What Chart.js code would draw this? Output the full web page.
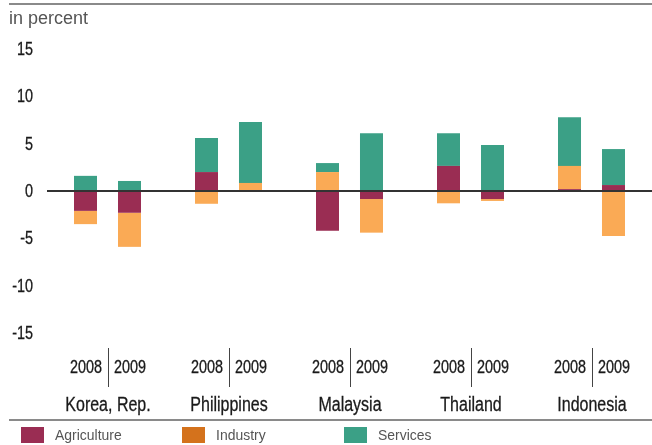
<!DOCTYPE html>
<html>
<head>
<meta charset="utf-8">
<script src="https://cdn.jsdelivr.net/npm/chart.js@4"></script>
<style>
  html, body { margin: 0; padding: 0; background: #fff; }
  #wrap { width: 652px; height: 445px; position: relative; }
</style>
</head>
<body>
<div id="wrap"><canvas id="chart"></canvas></div>
<script>
// Data (percentage points)
const countries = ["Korea, Rep.", "Philippines", "Malaysia", "Thailand", "Indonesia"];
const years = ["2008", "2009"];
const sectors = ["Agriculture", "Industry", "Services"];

const agri2008 = [-2.1, 2.0, -4.2, 2.65, 0.2];
const ind2008 = [-1.4, -1.35, 2.0, -1.3, 2.45];
const serv2008 = [1.6, 3.6, 0.95, 3.45, 5.15];

const agri2009 = [-2.3, 0, -0.85, -0.85, 0.63];
const ind2009 = [-3.6, 0.85, -3.55, -0.2, -4.75];
const serv2009 = [1.06, 6.45, 6.1, 4.87, 3.8];

const yTicks = [15, 10, 5, 0, -5, -10, -15];

const barColors = ["#9a2d53", "#faaa55", "#3ba086"];
const legendColors = ["#9a2d53", "#d4721c", "#3ba086"];

const FONT = '"Liberation Sans", Arial, sans-serif';

function ds(label, data, color, stack) {
    return {
        label: label,
        data: data,
        backgroundColor: color,
        borderWidth: 0,
        stack: stack,
        categoryPercentage: 0.727,
        barPercentage: 0.523
    };
}

// no condensed face installed, so squeeze the text horizontally
function narrowText(ctx, text, x, y, align, size, sx, weight) {
    ctx.save();
    ctx.translate(x, y);
    ctx.scale(sx, 1);
    ctx.font = size + "px " + FONT;
    ctx.textAlign = align;
    ctx.textBaseline = "middle";
    ctx.fillText(text, 0, 0);
    if (weight) {
        ctx.strokeStyle = ctx.fillStyle;
        ctx.lineWidth = weight;
        ctx.strokeText(text, 0, 0);
    }
    ctx.restore();
}

const decorations = {
    id: "decorations",
    afterDraw(chart) {
        const ctx = chart.ctx;
        const xs = chart.scales.x;
        const ys = chart.scales.y;
        ctx.save();

        // top rule and unit label
        ctx.strokeStyle = "#8a8a8a";
        ctx.lineWidth = 2;
        ctx.beginPath();
        ctx.moveTo(9, 4);
        ctx.lineTo(652, 4);
        ctx.stroke();

        ctx.fillStyle = "#555";
        narrowText(ctx, "in percent", 9, 19, "left", 18, 1);

        // y tick labels
        ctx.fillStyle = "#1a1a1a";
        yTicks.forEach(v => {
            narrowText(ctx, String(v), 33, ys.getPixelForValue(v) + 1, "right", 18, 0.8, 0.3);
        });

        // years + separators + country names
        countries.forEach((c, i) => {
            const cx = Math.round(xs.getPixelForValue(i));
            ctx.strokeStyle = "#444";
            ctx.lineWidth = 1;
            ctx.beginPath();
            ctx.moveTo(cx + 0.5, 348);
            ctx.lineTo(cx + 0.5, 387);
            ctx.stroke();

            ctx.fillStyle = "#1a1a1a";
            narrowText(ctx, years[0], cx - 6, 368, "right", 18, 0.8, 0.3);
            narrowText(ctx, years[1], cx + 6, 368, "left", 18, 0.8, 0.3);
            narrowText(ctx, c, cx, 405, "center", 20, 0.8, 0.3);
        });

        // bottom rule
        ctx.strokeStyle = "#8a8a8a";
        ctx.lineWidth = 2;
        ctx.beginPath();
        ctx.moveTo(9, 420);
        ctx.lineTo(652, 420);
        ctx.stroke();

        // legend
        const lx = [21, 182, 344];
        sectors.forEach((s, i) => {
            ctx.fillStyle = legendColors[i];
            ctx.fillRect(lx[i], 427, 23, 16);
            ctx.fillStyle = "#555";
            narrowText(ctx, s, lx[i] + 34, 436, "left", 15, 0.93);
        });

        ctx.restore();
    }
};

new Chart(document.getElementById("chart"), {
    type: "bar",
    data: {
        labels: countries,
        datasets: [
            ds(sectors[0] + " " + years[0], agri2008, barColors[0], years[0]),
            ds(sectors[1] + " " + years[0], ind2008, barColors[1], years[0]),
            ds(sectors[2] + " " + years[0], serv2008, barColors[2], years[0]),
            ds(sectors[0] + " " + years[1], agri2009, barColors[0], years[1]),
            ds(sectors[1] + " " + years[1], ind2009, barColors[1], years[1]),
            ds(sectors[2] + " " + years[1], serv2009, barColors[2], years[1])
        ]
    },
    options: {
        animation: false,
        responsive: true,
        maintainAspectRatio: false,
        layout: {
            padding: { top: 49, bottom: 112, left: 0, right: 0 }
        },
        scales: {
            x: {
                display: false,
                stacked: true
            },
            y: {
                stacked: true,
                min: -15,
                max: 15,
                afterFit: s => { s.width = 47; },
                afterBuildTicks: s => { s.ticks = yTicks.map(v => ({ value: v })); },
                border: { display: false },
                grid: {
                    drawTicks: false,
                    color: c => c.tick && c.tick.value === 0 ? "#333" : "rgba(0,0,0,0)",
                    lineWidth: 2
                },
                ticks: { display: false }
            }
        },
        plugins: {
            legend: { display: false },
            tooltip: { enabled: false }
        }
    },
    plugins: [decorations]
});
</script>
</body>
</html>
